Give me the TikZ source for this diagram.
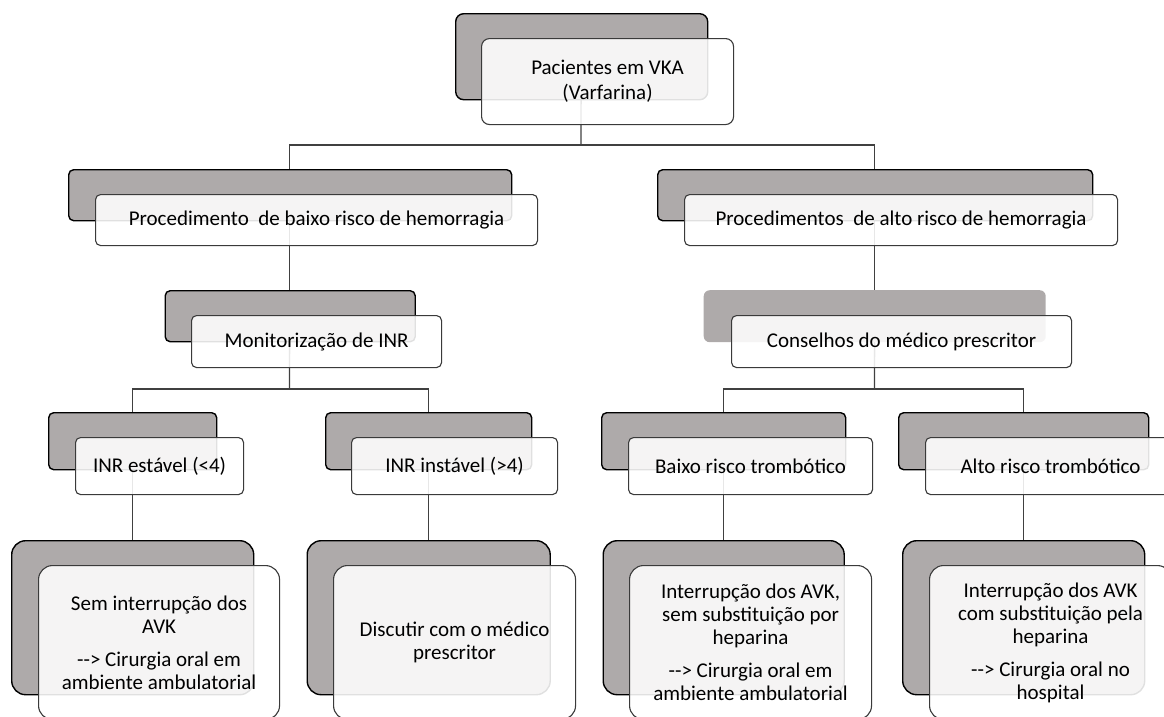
\documentclass[tikz,border=0pt]{standalone}
\usepackage{fontspec}
\setmainfont{Carlito}
\definecolor{shade}{HTML}{AEAAAA}
\definecolor{edge}{HTML}{3A3A3A}
\definecolor{wire}{HTML}{404040}
\tikzset{
  back/.style={draw=black, line width=1.4pt, fill=shade, rounded corners=#1, inner sep=0pt, anchor=north west},
  backflat/.style={draw=none, fill=shade, rounded corners=#1, inner sep=0pt, anchor=north west},
  front/.style={draw=edge, line width=1.1pt, fill=white, fill opacity=0.88, text opacity=1, rounded corners=#1, inner sep=0pt, anchor=north west, align=center, font=\fontsize{21}{23}\selectfont},
  place/.style={anchor=north west, inner sep=0pt},
  conn/.style={draw=wire, line width=1.3pt}
}
\begin{document}
\begin{tikzpicture}[x=1pt,y=-1pt]
\useasboundingbox (0,0) rectangle (1164,716);
\clip (0,0) rectangle (1164,716);
\coordinate (b0) at (581,145);
\coordinate (b3) at (289.5,389);
\coordinate (b4) at (874.5,389);
% placement of the back boxes (named, used by connectors)
\path
  (455,13) node[place, minimum width=252pt, minimum height=86pt] (g0) {}
  (68,169) node[place, minimum width=443pt, minimum height=51pt] (g1) {}
  (657,169) node[place, minimum width=435pt, minimum height=51pt] (g2) {}
  (164.5,290) node[place, minimum width=250pt, minimum height=51pt] (g3) {}
  (703.5,290) node[place, minimum width=342pt, minimum height=52pt] (g4) {}
  (48,412) node[place, minimum width=168pt, minimum height=57pt] (g5) {}
  (325,412) node[place, minimum width=206pt, minimum height=57pt] (g6) {}
  (601,412) node[place, minimum width=244pt, minimum height=57pt] (g7) {}
  (898,412) node[place, minimum width=250pt, minimum height=57pt] (g8) {}
  (11,540) node[place, minimum width=242pt, minimum height=154pt] (g9) {}
  (306.5,540) node[place, minimum width=243pt, minimum height=154pt] (g10) {}
  (602.5,540) node[place, minimum width=241pt, minimum height=154pt] (g11) {}
  (902,540) node[place, minimum width=242pt, minimum height=154pt] (g12) {};
% connectors
\draw[conn] (g0.center) -- (b0);
\draw[conn] (g1.center) |- (b0) -| (g2.center);
\draw[conn] (g1.center) -- (g3.center);
\draw[conn] (g2.center) -- (g4.center);
\draw[conn] (g3.center) -- (b3);
\draw[conn] (g5.center) |- (b3) -| (g6.center);
\draw[conn] (g4.center) -- (b4);
\draw[conn] (g7.center) |- (b4) -| (g8.center);
\draw[conn] (g5.center) -- (g9.center);
\draw[conn] (g6.center) -- (g10.center);
\draw[conn] (g7.center) -- (g11.center);
\draw[conn] (g8.center) -- (g12.center);
% level 1
\node[back=8pt, minimum width=252pt, minimum height=86pt] at (455,13) {};
\node[front=8pt, minimum width=252pt, minimum height=86pt, font=\fontsize{21}{25}\selectfont] (w0) at (481,38) {Pacientes em VKA\\(Varfarina)};
% level 2
\node[back=5pt, minimum width=443pt, minimum height=51pt] at (68,169) {};
\node[front=5pt, minimum width=442pt, minimum height=51pt] (w1) at (95,194) {Procedimento\ \ de baixo risco de hemorragia};
\node[back=5pt, minimum width=435pt, minimum height=51pt] at (657,169) {};
\node[front=5pt, minimum width=433pt, minimum height=51pt] (w2) at (684,194) {Procedimentos\ \ de alto risco de hemorragia};
% level 3
\node[back=5pt, minimum width=250pt, minimum height=51pt] at (164.5,290) {};
\node[front=5pt, minimum width=250pt, minimum height=52pt] (w3) at (191,315) {Monitorização de INR};
\node[backflat=6pt, minimum width=342pt, minimum height=52pt] at (703.5,290) {};
\node[front=5pt, minimum width=340pt, minimum height=52pt] (w4) at (731,315) {Conselhos do médico prescritor};
% level 4
\node[back=5pt, minimum width=168pt, minimum height=57pt] at (48,412) {};
\node[front=5pt, minimum width=168pt, minimum height=57pt] (w5) at (75,437) {INR estável (<4)};
\node[back=5pt, minimum width=206pt, minimum height=57pt] at (325,412) {};
\node[front=5pt, minimum width=206pt, minimum height=57pt] (w6) at (351,437) {INR instável (>4)};
\node[back=5pt, minimum width=244pt, minimum height=57pt] at (601,412) {};
\node[front=5pt, minimum width=244pt, minimum height=57pt] (w7) at (628,437) {Baixo risco trombótico};
\node[back=5pt, minimum width=250pt, minimum height=57pt] at (898,412) {};
\node[front=5pt, minimum width=250pt, minimum height=57pt] (w8) at (925,437) {Alto risco trombótico};
% level 5
\node[back=14pt, minimum width=242pt, minimum height=154pt] at (11,540) {};
\node[front=14pt, minimum width=241pt, minimum height=154pt] (w9) at (38,565) {Sem interrupção dos\\AVK\\[10pt]-{}-> Cirurgia oral em\\ambiente ambulatorial};
\node[back=14pt, minimum width=243pt, minimum height=154pt] at (306.5,540) {};
\node[front=14pt, minimum width=242pt, minimum height=154pt] (w10) at (333,565) {Discutir com o médico\\prescritor};
\node[back=14pt, minimum width=241pt, minimum height=154pt] at (602.5,540) {};
\node[front=14pt, minimum width=242pt, minimum height=154pt] (w11) at (629,565) {Interrupção dos AVK,\\sem substituição por\\heparina\\[10pt]-{}-> Cirurgia oral em\\ambiente ambulatorial};
\node[back=14pt, minimum width=242pt, minimum height=154pt] at (902,540) {};
\node[front=14pt, minimum width=242pt, minimum height=154pt] (w12) at (929,565) {Interrupção dos AVK\\com substituição pela\\heparina\\[10pt]-{}-> Cirurgia oral no\\hospital};
\end{tikzpicture}
\end{document}
